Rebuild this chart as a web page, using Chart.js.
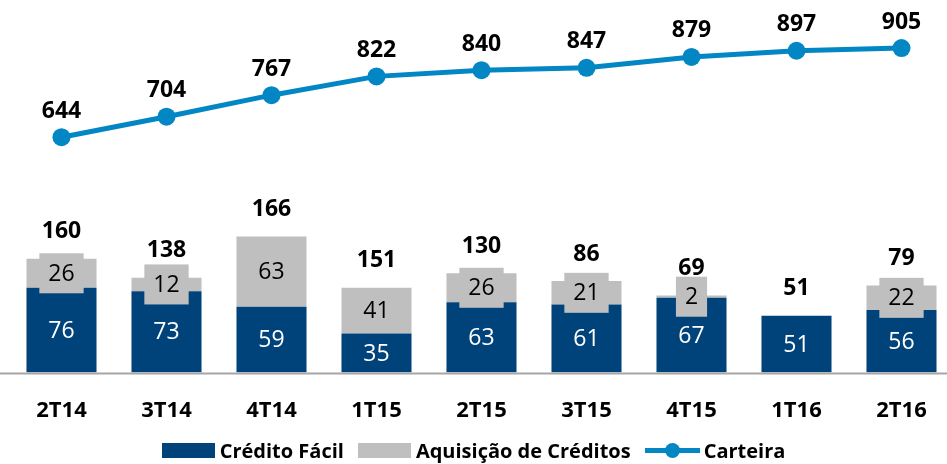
<!DOCTYPE html>
<html>
<head>
<meta charset="utf-8">
<script src="https://cdn.jsdelivr.net/npm/chart.js@4"></script>
<style>
  html, body { margin: 0; padding: 0; background: #fff; overflow: hidden; }
  #wrap { position: relative; width: 947px; height: 464px; overflow: hidden; }
  #wrap canvas { position: absolute; left: 0; top: 0; }
  #legend {
    position: absolute; left: 0; top: 438px; width: 947px; height: 24px;
    display: flex; justify-content: center; align-items: center;
    font-family: 'Open Sans', sans-serif; font-weight: bold; font-size: 20px; color: #000;
  }
  #legend .item { display: flex; align-items: center; margin: 0 7px; }
  #legend .box { width: 53px; height: 15px; margin-right: 5px; }
  #legend .ln { position: relative; width: 55px; height: 15px; margin-right: 4px; }
  #legend .ln::before { content: ''; position: absolute; left: 0; right: 0; top: 5px; height: 5px; background: #0287c4; }
  #legend .ln::after { content: ''; position: absolute; left: 20px; top: 0; width: 15px; height: 15px; border-radius: 50%; background: #0287c4; }
</style>
</head>
<body>
<div id="wrap">
  <canvas id="chart" width="963" height="464"></canvas>
  <div id="legend">
    <span class="item"><span class="box" style="background:#00437a"></span>Crédito Fácil</span>
    <span class="item"><span class="box" style="background:#bfbfbf"></span>Aquisição de Créditos</span>
    <span class="item"><span class="ln"></span>Carteira</span>
  </div>
</div>
<script>
const quarters = ['2T14', '3T14', '4T14', '1T15', '2T15', '3T15', '4T15', '1T16', '2T16'];
const creditoFacil = [76, 73, 59, 35, 63, 61, 67, 51, 56];
const aquisicao = [26, 12, 63, 41, 26, 21, 2, 0, 22];
const totais = [160, 138, 166, 151, 130, 86, 69, 51, 79];
const carteira = [644, 704, 767, 822, 840, 847, 879, 897, 905];

const DARK = '#00437a';
const GRAY = '#bfbfbf';
const BLUE = '#0287c4';
const FONT = "'Open Sans', sans-serif";

// draws the value labels (no datalabels plugin offline)
const valueLabels = {
    id: 'valueLabels',
    afterDatasetsDraw(chart) {
        const ctx = chart.ctx;
        const line = chart.getDatasetMeta(0);
        const dark = chart.getDatasetMeta(1);
        const gray = chart.getDatasetMeta(2);
        ctx.save();
        ctx.textAlign = 'center';
        ctx.textBaseline = 'middle';

        // dark segment values
        ctx.font = '23px ' + FONT;
        ctx.fillStyle = '#fff';
        dark.data.forEach((bar, i) => {
            ctx.fillText(creditoFacil[i], bar.x, (bar.y + bar.base) / 2 + 1);
        });

        // grey segment values, on a grey box
        gray.data.forEach((bar, i) => {
            if (!aquisicao[i]) return;
            const cy = (bar.y + bar.base) / 2;
            const w = ctx.measureText(aquisicao[i]).width + 18;
            ctx.fillStyle = GRAY;
            ctx.fillRect(bar.x - w / 2, cy - 20, w, 40);
            ctx.fillStyle = '#000';
            ctx.fillText(aquisicao[i], bar.x, cy + 1);
        });

        // totals above the stack
        ctx.font = 'bold 23px ' + FONT;
        ctx.fillStyle = '#000';
        dark.data.forEach((bar, i) => {
            const top = Math.min(bar.y, gray.data[i].y);
            ctx.fillText(totais[i], bar.x, top - 27);
        });

        // carteira values
        line.data.forEach((pt, i) => {
            ctx.fillText(carteira[i], pt.x, pt.y - 26);
        });

        // base line
        ctx.strokeStyle = '#a6a6a6';
        ctx.lineWidth = 2;
        ctx.beginPath();
        ctx.moveTo(0, chart.chartArea.bottom + 1);
        ctx.lineTo(chart.width, chart.chartArea.bottom + 1);
        ctx.stroke();
        ctx.restore();
    }
};

new Chart(document.getElementById('chart'), {
    data: {
        labels: quarters,
        datasets: [
            {
                type: 'line',
                label: 'Carteira',
                data: carteira,
                yAxisID: 'y2',
                borderColor: BLUE,
                backgroundColor: BLUE,
                borderWidth: 5,
                pointRadius: 9,
                pointBorderWidth: 0,
                pointBackgroundColor: BLUE,
                order: 0
            },
            {
                type: 'bar',
                label: 'Crédito Fácil',
                data: creditoFacil,
                backgroundColor: DARK,
                stack: 's',
                yAxisID: 'y',
                order: 1
            },
            {
                type: 'bar',
                label: 'Aquisição de Créditos',
                data: aquisicao,
                backgroundColor: GRAY,
                stack: 's',
                yAxisID: 'y',
                order: 1
            }
        ]
    },
    options: {
        responsive: false,
        animation: false,
        layout: { padding: { left: 8, right: 9, top: 20, bottom: 23 } },
        datasets: { bar: { categoryPercentage: 1, barPercentage: 0.667 } },
        plugins: { legend: { display: false }, tooltip: { enabled: false } },
        scales: {
            x: {
                stacked: true,
                grid: { display: false },
                border: { display: false },
                ticks: { color: '#000', padding: 17, font: { family: FONT, size: 22, weight: 'bold' } }
            },
            y: { stacked: true, display: false, min: 0, max: 316 },
            y2: { display: false, min: -45, max: 987 }
        }
    },
    plugins: [valueLabels]
});
</script>
</body>
</html>
